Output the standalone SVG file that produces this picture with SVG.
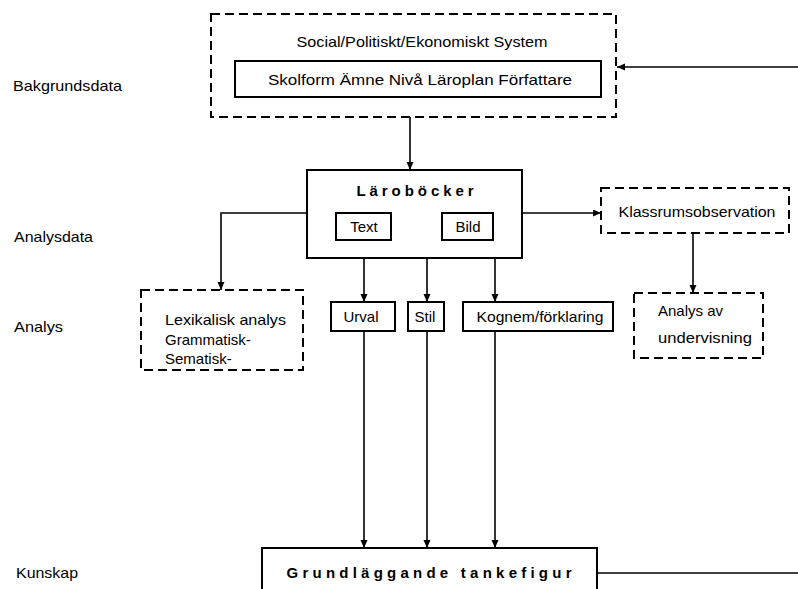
<svg xmlns="http://www.w3.org/2000/svg" width="798" height="589" viewBox="0 0 798 589">
<style>
  text { font-family: "Liberation Sans", Arial, sans-serif; font-size: 15px; fill: #000; }
  .mid { text-anchor: middle; }
  .title { font-weight: bold; letter-spacing: 4px; }
  .solid { fill: #fff; stroke: #000; stroke-width: 2; }
  .dash { fill: #fff; stroke: #000; stroke-width: 2; stroke-dasharray: 9 5; }
  .conn { fill: none; stroke: #000; stroke-width: 1.6; }
</style>
<defs>
  <marker id="arr" markerUnits="userSpaceOnUse" markerWidth="9" markerHeight="8" refX="8" refY="3.5" orient="auto">
    <path d="M0,0 L8,3.5 L0,7 z" fill="#000"/>
  </marker>
</defs>
<rect width="798" height="589" fill="#fff"/>

<g id="labels">
  <text x="13" y="91" textLength="109" lengthAdjust="spacingAndGlyphs">Bakgrundsdata</text>
  <text x="14" y="242" textLength="79" lengthAdjust="spacingAndGlyphs">Analysdata</text>
  <text x="14" y="332" textLength="49" lengthAdjust="spacingAndGlyphs">Analys</text>
  <text x="16" y="578" textLength="62" lengthAdjust="spacingAndGlyphs">Kunskap</text>
</g>

<g id="connectors">
  <path class="conn" d="M410 117 V170" marker-end="url(#arr)"/>
  <path class="conn" d="M798 67 H617" marker-end="url(#arr)"/>
  <path class="conn" d="M307 213 H221 V290" marker-end="url(#arr)"/>
  <path class="conn" d="M522 213 H601" marker-end="url(#arr)"/>
  <path class="conn" d="M693 233 V293" marker-end="url(#arr)"/>
  <path class="conn" d="M364 258 V302" marker-end="url(#arr)"/>
  <path class="conn" d="M427 258 V302" marker-end="url(#arr)"/>
  <path class="conn" d="M495 258 V302" marker-end="url(#arr)"/>
  <path class="conn" d="M364 331 V548" marker-end="url(#arr)"/>
  <path class="conn" d="M427 331 V548" marker-end="url(#arr)"/>
  <path class="conn" d="M495 331 V548" marker-end="url(#arr)"/>
  <path class="conn" d="M597 573 H798"/>
</g>

<g id="system">
  <rect class="dash" x="211" y="14" width="405" height="103"/>
  <text class="mid" x="422" y="47" textLength="251" lengthAdjust="spacingAndGlyphs">Social/Politiskt/Ekonomiskt System</text>
</g>
<g id="bakgrund">
  <rect class="solid" x="235" y="61" width="366" height="36"/>
  <text class="mid" x="420" y="85" textLength="304" lengthAdjust="spacingAndGlyphs">Skolform  Ämne  Nivå  Läroplan  Författare</text>
</g>

<g id="larobocker">
  <rect class="solid" x="307" y="170" width="215" height="88"/>
  <text class="mid title" x="417" y="196" textLength="121" lengthAdjust="spacing">Läroböcker</text>
</g>
<g id="text">
  <rect class="solid" x="336" y="213" width="55" height="27"/>
  <text class="mid" x="364" y="232">Text</text>
</g>
<g id="bild">
  <rect class="solid" x="442" y="213" width="51" height="27"/>
  <text class="mid" x="468" y="232">Bild</text>
</g>

<g id="klassrum">
  <rect class="dash" x="601" y="188" width="188" height="45"/>
  <text class="mid" x="697" y="217" textLength="157" lengthAdjust="spacingAndGlyphs">Klassrumsobservation</text>
</g>

<g id="lexikalisk">
  <rect class="dash" x="141" y="290" width="162" height="80"/>
  <text x="165" y="325" textLength="121" lengthAdjust="spacingAndGlyphs">Lexikalisk analys</text>
  <text x="165" y="345">Grammatisk-</text>
  <text x="165" y="364">Sematisk-</text>
</g>

<g id="urval">
  <rect class="solid" x="331" y="302" width="64" height="29"/>
  <text class="mid" x="361" y="322">Urval</text>
</g>
<g id="stil">
  <rect class="solid" x="408" y="302" width="36" height="29"/>
  <text class="mid" x="425" y="322">Stil</text>
</g>
<g id="kognem">
  <rect class="solid" x="463" y="302" width="150" height="29"/>
  <text class="mid" x="540" y="322" textLength="127" lengthAdjust="spacingAndGlyphs">Kognem/förklaring</text>
</g>

<g id="analysav">
  <rect class="dash" x="634" y="293" width="129" height="65"/>
  <text x="658" y="316">Analys av</text>
  <text x="658" y="343" textLength="94" lengthAdjust="spacingAndGlyphs">undervisning</text>
</g>

<g id="grundlaggande">
  <rect class="solid" x="262" y="548" width="335" height="50"/>
  <text class="mid title" x="431" y="578" textLength="289" lengthAdjust="spacing">Grundläggande tankefigur</text>
</g>
</svg>
